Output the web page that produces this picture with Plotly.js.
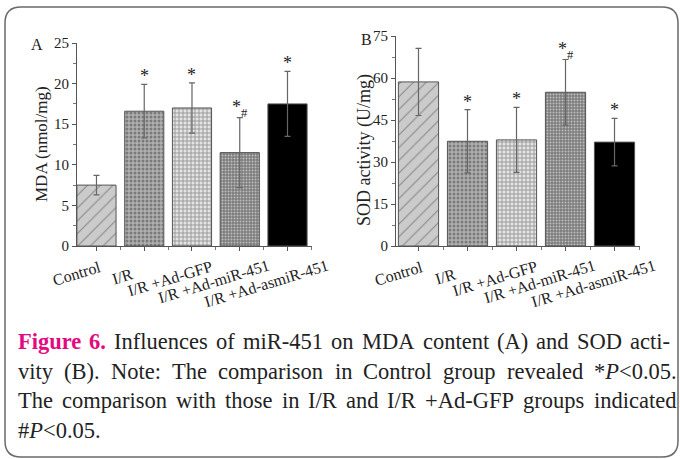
<!DOCTYPE html>
<html><head><meta charset="utf-8">
<script src="https://cdn.plot.ly/plotly-3.0.1.min.js"></script>
<style>html,body{margin:0;padding:0;background:#fff}#chart{width:680px;height:459px}</style>
</head><body><div id="chart"></div>
<script>
// ---- data ----
const categories = ['Control', 'I/R', 'I/R +Ad-GFP', 'I/R +Ad-miR-451', 'I/R +Ad-asmiR-451'];
const mdaValues = [7.5, 16.6, 17.0, 11.5, 17.5];
const mdaErrors = [1.2, 3.3, 3.1, 4.3, 4.0];
const sodValues = [58.6, 37.4, 37.9, 54.9, 37.1];
const sodErrors = [12.0, 11.3, 11.6, 11.7, 8.5];
const mdaSig = ['', '*', '*', '*#', '*'];
const sodSig = ['', '*', '*', '*#', '*'];
const mdaTicks = [0, 5, 10, 15, 20, 25];
const sodTicks = [0, 15, 30, 45, 60, 75];
const captionLines = [
  '^Figure ^6. Influences of miR-451 on MDA content (A) and SOD acti-',
  'vity (B). Note: The comparison in Control group revealed *~P~<0.05.',
  'The comparison with those in I/R and I/R +Ad-GFP groups indicated',
  '#~P~<0.05.'
];

// ---- styles ----
const W = 680, H = 459;
const px = x => x / W, py = y => 1 - y / H;
const serif = 'Liberation Serif, Times New Roman, serif';
const patShapes = ['/', '.', '+', '.', ''];
const patBg = ['#cbcbcb', '#b0b0b0', '#e4e4e4', '#7c7c7c', '#000000'];
const patFg = ['#a0a0a0', '#f2f2f2', '#3c3c3c', '#5e5e5e', '#000000'];
const patSize = [9, 4, 4, 3, 4];
const patSolid = [0.12, 0.45, 0.4, 0.35, 0.3];
const labelDx = [-20, -22, -22, -26, -21];
const labelDy = [273, 276, 278, 281, 283];

const idx = categories.map((c, i) => i);

function barTrace(vals, errs, xa, ya) {
  return {
    type: 'bar', x: idx, y: vals, xaxis: xa, yaxis: ya, width: 0.82,
    marker: {
      color: patBg, line: {color: '#555', width: 1},
      pattern: {shape: patShapes, fgcolor: patFg, size: patSize, solidity: patSolid, fillmode: 'overlay'}
    },
    error_y: {type: 'data', array: errs, visible: true, color: '#666', thickness: 1.2, width: 3},
    hoverinfo: 'skip', showlegend: false
  };
}

const data = [barTrace(mdaValues, mdaErrors, 'x', 'y'), barTrace(sodValues, sodErrors, 'x2', 'y2')];

function xAxis(domain, range) {
  return {
    domain: domain, range: range, showgrid: false, zeroline: false, fixedrange: true,
    showline: true, linecolor: '#555', linewidth: 1,
    tickmode: 'array', tickvals: idx, showticklabels: false, ticks: 'outside', ticklen: 4, tickcolor: '#555',
    minor: {tickmode: 'array', tickvals: [0.5, 1.5, 2.5, 3.5, 4.5], ticks: 'outside', ticklen: 3, tickcolor: '#777'}
  };
}
function yAxis(domain, range, ticks, anchor) {
  return {
    domain: domain, range: range, anchor: anchor, showgrid: false, zeroline: false, fixedrange: true,
    showline: true, linecolor: '#555', linewidth: 1,
    tickmode: 'array', tickvals: ticks, ticks: 'outside', ticklen: 4, tickcolor: '#555',
    tickfont: {family: serif, size: 15, color: '#222'},
    minor: {tickmode: 'array', tickvals: ticks.slice(0, -1).map((t, i) => (t + ticks[i + 1]) / 2), ticks: 'outside', ticklen: 3, tickcolor: '#777'}
  };
}

const annotations = [];
// category labels
['x', 'x2'].forEach(xa => {
  categories.forEach((c, i) => {
    annotations.push({xref: xa, yref: 'paper', x: i, y: py(labelDy[i]), xshift: labelDx[i],
      text: c, showarrow: false, textangle: -17, xanchor: 'center', yanchor: 'middle',
      font: {family: serif, size: 16, color: '#222'}});
  });
});
// significance marks
function sigMarks(vals, errs, sig, xa, ya) {
  sig.forEach((s, i) => {
    if (!s) return;
    const t = s.replace('#', '<sub>#</sub>');
    annotations.push({xref: xa, yref: ya, x: i, y: vals[i] + errs[i], yshift: -3, text: t, showarrow: false,
      xanchor: 'center', yanchor: 'bottom', borderpad: 0, font: {family: serif, size: 18, color: '#222'}});
  });
}
sigMarks(mdaValues, mdaErrors, mdaSig, 'x', 'y');
sigMarks(sodValues, sodErrors, sodSig, 'x2', 'y2');
// panel letters and axis titles
annotations.push({xref: 'paper', yref: 'paper', x: px(37), y: py(45), text: 'A', showarrow: false, xanchor: 'center', yanchor: 'middle', font: {family: serif, size: 16, color: '#222'}});
annotations.push({xref: 'paper', yref: 'paper', x: px(366), y: py(39), text: 'B', showarrow: false, xanchor: 'center', yanchor: 'middle', font: {family: serif, size: 16, color: '#222'}});
annotations.push({xref: 'paper', yref: 'paper', x: px(41), y: py(144), text: 'MDA (nmol/mg)', textangle: -90, showarrow: false, xanchor: 'center', yanchor: 'middle', font: {family: serif, size: 17, color: '#222'}});
annotations.push({xref: 'paper', yref: 'paper', x: px(365), y: py(150), text: 'SOD activity (U/mg)', textangle: -90, showarrow: false, xanchor: 'center', yanchor: 'middle', font: {family: serif, size: 18, color: '#222'}});

// caption (justified word by word)
const capSize = 22.5;
const capLeft = 17;
const capRight = [669, 676, 675];
const capBase = [349, 378.5, 408, 437.5];
const ctx = document.createElement('canvas').getContext('2d');
function esc(s) { return s.replace(/&/g, '&amp;').replace(/</g, '&lt;').replace(/>/g, '&gt;'); }
function parseWord(w) {
  if (w[0] === '^') return {segs: [[w.slice(1), 'b']], bold: true};
  const parts = w.split('~');
  return {segs: parts.map((p, k) => [p, k % 2 ? 'i' : 'n']).filter(s => s[0].length), bold: false};
}
function measure(segs) {
  let t = 0;
  segs.forEach(([s, st]) => {
    ctx.font = (st === 'b' ? 'bold ' : '') + (st === 'i' ? 'italic ' : '') + capSize + 'px "Liberation Serif"';
    t += ctx.measureText(s).width;
  });
  return t;
}
ctx.font = capSize + 'px "Liberation Serif"';
const spaceW = ctx.measureText(' ').width;
captionLines.forEach((line, li) => {
  const words = line.split(' ').map(parseWord);
  const widths = words.map(w => measure(w.segs));
  const total = widths.reduce((a, b) => a + b, 0);
  let gap = spaceW;
  if (li < capRight.length && words.length > 1) gap = Math.max(2, (capRight[li] - capLeft - total) / (words.length - 1));
  let x = capLeft;
  words.forEach((w, k) => {
    const text = w.segs.map(([s, st]) => st === 'b' ? '<b>' + esc(s) + '</b>' : st === 'i' ? '<i>' + esc(s) + '</i>' : esc(s)).join('');
    annotations.push({xref: 'paper', yref: 'paper', x: px(x), y: py(capBase[li] - 0.32 * capSize), text: text,
      showarrow: false, xanchor: 'left', yanchor: 'middle', borderpad: 0,
      font: {family: serif, size: capSize, color: w.bold ? '#e5097f' : '#222'}});
    x += widths[k] + gap;
  });
});

// rounded frame
const r = 16, L = 5, T = 7, R = 678, B = 457;
const P = (x, y) => px(x) + ',' + py(y);
const framePath = 'M' + P(L, T + r) + ' Q' + P(L, T) + ' ' + P(L + r, T) + ' L' + P(R - r, T) + ' Q' + P(R, T) + ' ' + P(R, T + r) +
  ' L' + P(R, B - r) + ' Q' + P(R, B) + ' ' + P(R - r, B) + ' L' + P(L + r, B) + ' Q' + P(L, B) + ' ' + P(L, B - r) + ' Z';

const layout = {
  width: W, height: H, margin: {l: 0, r: 0, t: 0, b: 0},
  paper_bgcolor: '#fff', plot_bgcolor: '#fff', showlegend: false,
  xaxis: xAxis([px(77), px(312)], [-0.408, 4.513]),
  yaxis: yAxis([py(246), py(43)], [0, 25], mdaTicks, 'x'),
  xaxis2: xAxis([px(396), px(640)], [-0.459, 4.52]),
  yaxis2: yAxis([py(246), py(36)], [0, 75], sodTicks, 'x2'),
  annotations: annotations,
  shapes: [{type: 'path', xref: 'paper', yref: 'paper', path: framePath, line: {color: '#6a6a6a', width: 1.5}, fillcolor: 'rgba(0,0,0,0)'}]
};
layout.xaxis.anchor = 'y';
layout.xaxis2.anchor = 'y2';

Plotly.newPlot('chart', data, layout, {displayModeBar: false, staticPlot: true});
</script></body></html>
